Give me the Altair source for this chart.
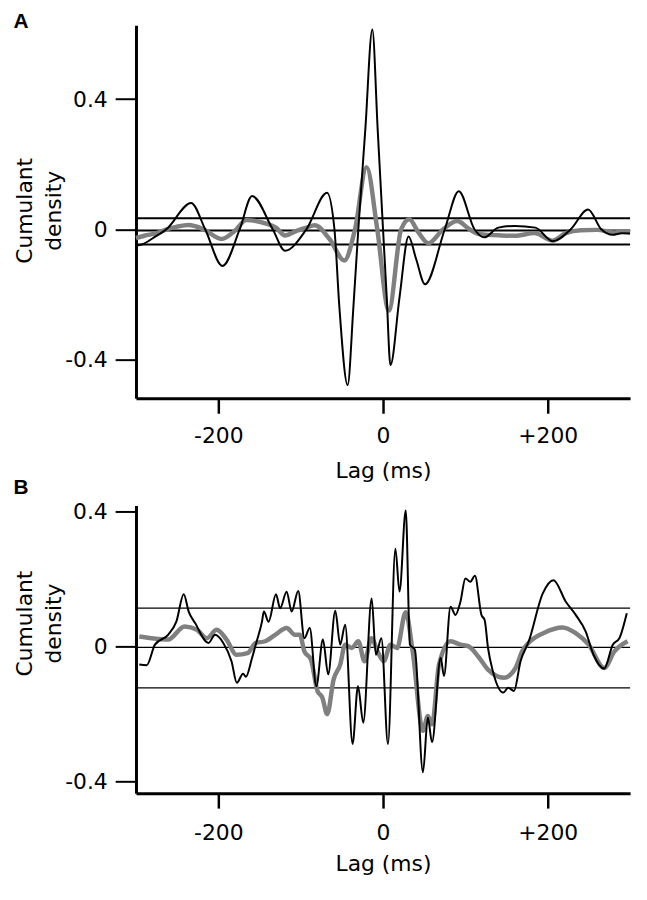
import altair as alt
import pandas as pd

# ---------------- Panel A ----------------
a_black_lag = [-300, -292, -278, -263, -233, -216, -195, -174, -159, -134, -119, -93, -68, -59, -53,
               -43, -36, -30, -21.5, -13, -6.5, 0, 4.5, 9, 20, 31, 40, 51, 75, 92, 111, 123, 140,
               160, 185, 206, 228, 249, 265, 279, 290, 300]
a_black_val = [-0.050, -0.046, -0.025, 0.0, 0.081, 0.0, -0.113, 0.0, 0.102, 0.0, -0.066, 0.0, 0.112, 0.0, -0.24,
               -0.479, -0.24, 0.0, 0.307, 0.614, 0.307, 0.0, -0.21, -0.418, -0.21, -0.022, -0.09, -0.169, 0.0, 0.117, 0.0, -0.025, 0.005,
               0.01, 0.005, -0.037, 0.0, 0.061, 0.0, -0.017, -0.012, -0.013]

a_gray_lag = [-300, -290, -275, -262, -250, -236, -218, -196, -180, -166, -143, -130, -119, -105, -93,
              -83, -65, -47, -34, -20, -7, 7, 22, 32, 43, 55, 73, 90, 105, 117, 144, 160, 184, 206,
              222, 240, 260, 280, 290, 300]
a_gray_val = [-0.027, -0.02, -0.012, 0.0, 0.008, 0.013, 0.0, -0.03, -0.005, 0.028, 0.018, 0.005, -0.019, -0.005, 0.005,
              0.012, -0.03, -0.096, 0.0, 0.191, 0.0, -0.25, 0.0, 0.031, -0.01, -0.043, 0.0, 0.025, 0.0, -0.015, -0.019, -0.02, -0.012, -0.035,
              -0.012, -0.003, -0.002, -0.01, -0.006, -0.01]

a_limits = [0.034, -0.004, -0.047]

# ---------------- Panel B ----------------
b_black_lag = [-296, -287, -277, -261, -251, -242, -236, -228, -212, -204, -194, -184, -177.5, -170, -166.5,
               -159, -154, -147, -144.7, -139, -130, -125, -117, -111, -103, -95.5, -89, -81, -73, -66.6,
               -58, -52, -46, -37, -30.4, -24, -13.8, -8.7, -2, 6, 15, 20, 27.6, 32.7, 38.7, 48.5, 54.4,
               59.5, 70, 74, 82, 88, 94, 100, 106, 111.6, 119.5, 123.4, 127.5, 133.4, 146, 152, 159, 167,
               177, 194, 207, 222, 234, 246, 255.6, 268.6, 279, 287, 296]
b_black_val = [-0.053, -0.055, 0.006, 0.035, 0.074, 0.155, 0.104, 0.069, 0.011, 0.035, 0.011, -0.043, -0.107, -0.08, -0.089,
               -0.033, 0.011, 0.074, 0.104, 0.074, 0.155, 0.114, 0.163, 0.104, 0.165, 0.025, 0.055, -0.117, 0.021, -0.082,
               0.106, 0.006, 0.065, -0.288, -0.117, -0.225, 0.143, -0.024, 0.025, -0.288, 0.29, 0.163, 0.403, 0.006, -0.009, -0.372, -0.21,
               -0.283, -0.033, -0.087, 0.118, 0.094, 0.133, 0.202, 0.192, 0.21, 0.094, 0.079, -0.004, -0.073, -0.136, -0.122, -0.131, -0.043,
               0.016, 0.158, 0.197, 0.133, 0.094, 0.045, -0.024, -0.065, 0.006, 0.025, 0.099]

b_gray_lag = [-296, -281, -261, -241, -226, -214, -202, -190, -178, -164.5, -154.7, -143, -131, -117, -107,
              -101, -95.5, -87.6, -79.6, -73.7, -67.8, -60, -52, -46, -38, -30, -22.5, -14, -6.7, 1, 9, 17,
              27.5, 36, 48.5, 54.4, 59.5, 68, 82, 94, 104, 115.6, 127.5, 147, 161, 169, 178.7, 194.5, 218,
              234, 249.7, 268.6, 281, 297]
b_gray_val = [0.03, 0.025, 0.021, 0.06, 0.05, 0.025, 0.05, 0.021, -0.024, -0.019, 0.011, 0.016, 0.035, 0.055, 0.035,
              0.035, -0.014, -0.038, -0.131, -0.151, -0.2, -0.097, -0.053, 0.006, -0.004, 0.016, -0.043, 0.025, -0.014, -0.043, 0.006, -0.004,
              0.102, -0.014, -0.249, -0.205, -0.23, -0.053, 0.016, 0.006, 0.001, -0.029, -0.068, -0.092, -0.063, -0.014, 0.016, 0.04, 0.057,
              0.04, 0.006, -0.063, -0.014, 0.016]

b_limits = [0.114, -0.002, -0.122]

x_ticks = [-200, 0, 200]
y_ticks = [-0.4, 0, 0.4]
y_title_lines = ["Cumulant", "density"]
panel_letters = ["A", "B"]

FONT = "DejaVu Sans"
FS = 22
W = 498


def text_layer(txt, x, y, **kw):
    return alt.Chart(pd.DataFrame({"t": [txt]})).mark_text(color="black", **kw).encode(
        x=alt.value(x), y=alt.value(y), text="t:N"
    )


def panel(bl, bv, gl, gv, limits, ydom, h, title_y, rule_w, lab_pad, tit_pad, letters):
    df_b = pd.DataFrame({"lag": bl, "val": bv})
    df_g = pd.DataFrame({"lag": gl, "val": gv})
    df_r = pd.DataFrame({"val": limits})

    xenc = alt.X(
        "lag:Q",
        scale=alt.Scale(domain=[-300, 300], nice=False, zero=False),
        axis=alt.Axis(
            values=x_ticks,
            labelExpr="datum.value > 0 ? '+' + datum.value : (datum.value < 0 ? '-' + abs(datum.value) : '0')",
            title="Lag (ms)",
            tickSize=15,
            tickWidth=2.5,
            labelPadding=lab_pad,
            titlePadding=tit_pad,
            labelFlush=False,
        ),
    )
    yenc = alt.Y(
        "val:Q",
        scale=alt.Scale(domain=ydom, nice=False, zero=False),
        axis=alt.Axis(
            values=y_ticks,
            labelExpr="datum.value == 0 ? '0' : (datum.value < 0 ? '-' : '') + format(abs(datum.value), '.1f')",
            title=None,
            tickSize=21,
            tickWidth=2,
            labelPadding=8,
            labelFlush=False,
        ),
    )

    rules = alt.Chart(df_r).mark_rule(color="black", strokeWidth=rule_w).encode(y=yenc)
    gray = alt.Chart(df_g).mark_line(color="#808080", strokeWidth=4.5, interpolate="monotone").encode(x=xenc, y=yenc)
    black = alt.Chart(df_b).mark_line(color="black", strokeWidth=2, interpolate="monotone").encode(x=xenc, y=yenc)
    layers = [rules, gray, black]
    for (letter, ly) in letters:
        layers.append(text_layer(letter, -116, ly, font="Liberation Sans", fontWeight="bold", fontSize=21,
                                 align="center", baseline="middle"))
    layers.append(text_layer(y_title_lines[0], -112, title_y, font=FONT, fontSize=FS, align="center",
                             baseline="middle", angle=270))
    layers.append(text_layer(y_title_lines[1], -83, title_y, font=FONT, fontSize=FS, align="center",
                             baseline="middle", angle=270))
    return alt.layer(*layers).properties(width=W, height=h)


pa = panel(a_black_lag, a_black_val, a_gray_lag, a_gray_val, a_limits, [-0.52, 0.627], 376, 187, 2,
           12, 15, [(panel_letters[0], -3), (panel_letters[1], 466)])
pb = panel(b_black_lag, b_black_val, b_gray_lag, b_gray_val, b_limits, [-0.434, 0.418], 290, 119, 1.2,
           15, 10, [])

chart = alt.vconcat(pa, pb, spacing=3).properties(
    padding={"left": 5, "top": 0, "right": 0, "bottom": 0},
    background="white",
).configure_view(stroke=None).configure_axis(
    grid=False,
    domainColor="black",
    domainWidth=3,
    tickColor="black",
    labelFont=FONT,
    labelFontSize=FS,
    labelColor="black",
    titleFont=FONT,
    titleFontSize=FS,
    titleFontWeight="normal",
    titleColor="black",
)

chart.save("out.html", embed_options={"renderer": "svg", "actions": False})
